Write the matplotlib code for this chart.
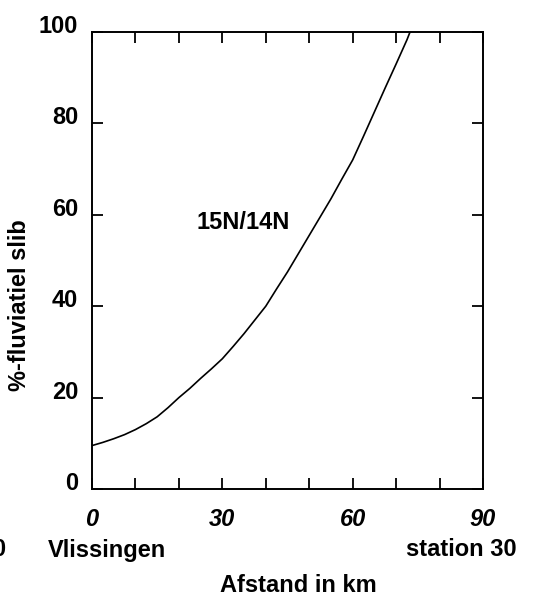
import numpy as np
import matplotlib.pyplot as plt
from matplotlib.transforms import ScaledTranslation

# values
afstand = [0, 2.5, 5, 7.5, 10, 12.5, 15, 17.5, 20, 22.5, 25, 27.5, 30, 32.5, 35,
           37.5, 40, 42.5, 45, 47.5, 50, 52.5, 55, 57.5, 60, 62.5, 65, 67.5, 70,
           72.5, 73.2]
fluviatiel = [9.5, 10.2, 11, 11.9, 13, 14.3, 15.8, 17.8, 20, 22, 24.2, 26.3, 28.5,
              31.2, 34, 37, 40, 43.8, 47.5, 51.5, 55.5, 59.5, 63.5, 67.8, 72, 77.2,
              82.5, 87.8, 93, 98.3, 100]

x_ticks = [0, 30, 60, 90]
y_ticks = [0, 20, 40, 60, 80, 100]

plt.rcParams['font.family'] = ['Liberation Sans', 'DejaVu Sans']
plt.rcParams['font.weight'] = 'bold'
fs = 17

fig = plt.figure(figsize=(5.53, 6.0), dpi=100)
ax = fig.add_axes([92 / 553, 1 - 489 / 600, (483 - 92) / 553, (489 - 32) / 600])

ax.plot(afstand, fluviatiel, color='black', lw=1.2)

ax.set_xlim(0, 90)
ax.set_ylim(0, 100)
ax.set_xticks(x_ticks)
ax.set_xticks(np.arange(0, 91, 10), minor=True)
ax.set_yticks(y_ticks)
ax.tick_params(which='both', direction='in', top=True, right=True,
               length=8, width=1.3, labelsize=fs, pad=14)
ax.tick_params(axis='y', pad=10)
for sp in ax.spines.values():
    sp.set_linewidth(1.4)

# y labels sit a bit above their ticks
for lab in ax.get_yticklabels():
    lab.set_transform(lab.get_transform() + ScaledTranslation(0, 8 / 100, fig.dpi_scale_trans))
    lab.set_fontweight('bold')
for lab in ax.get_xticklabels():
    lab.set_fontweight('bold')
    lab.set_fontstyle('italic')

ax.text(34.8, 58.4, '15N/14N', fontsize=fs, ha='center', va='center')

fig.text(107 / 553, 1 - 550 / 600, 'Vlissingen', fontsize=fs, ha='center', va='center')
fig.text(461 / 553, 1 - 550 / 600, 'station 30', fontsize=fs, ha='center', va='center')
fig.text(5 / 553, 1 - 550 / 600, '0', fontsize=fs, ha='right', va='center')
fig.text(298 / 553, 1 - 585 / 600, 'Afstand in km', fontsize=fs, ha='center', va='center')
fig.text(20 / 553, 1 - 305 / 600, '%-fluviatiel slib', fontsize=fs, ha='center',
         va='center', rotation=90)

fig.savefig('out.png', dpi=100)
